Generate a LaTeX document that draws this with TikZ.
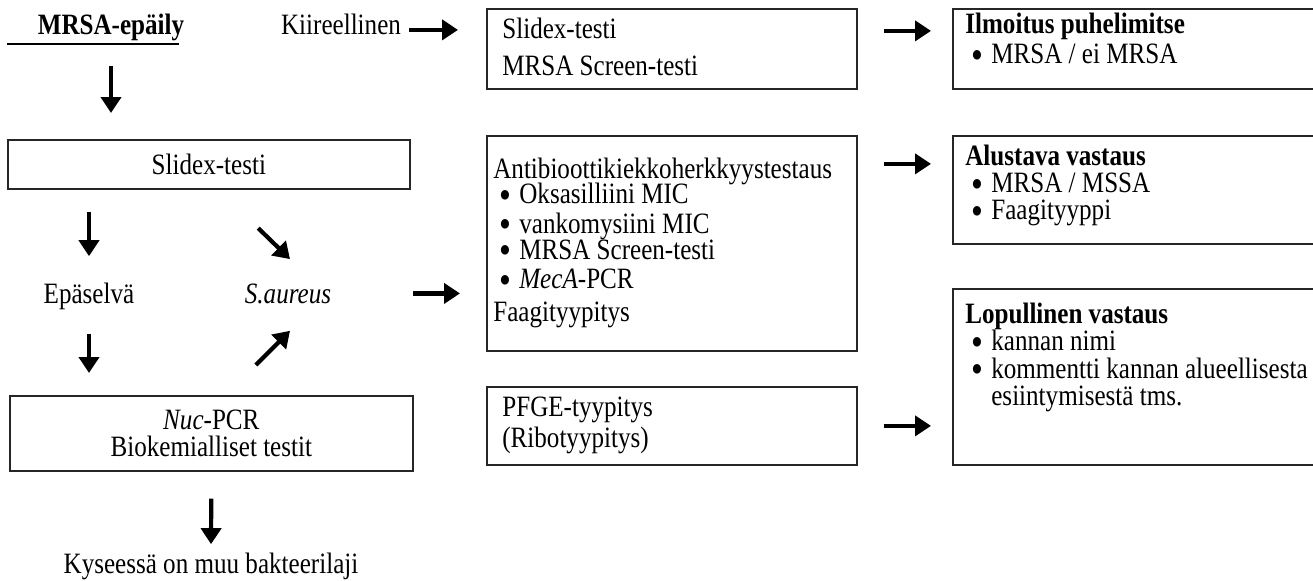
\documentclass[tikz,border=0pt]{standalone}
\usepackage{fontspec}
\usepackage{graphicx}
\setmainfont{Liberation Serif}[FakeStretch=0.85]
\usetikzlibrary{arrows.meta}

\newcommand{\diagfont}{\fontsize{16.8}{16}\selectfont\lineskiplimit -20pt\relax}
\newcommand{\bul}{\makebox[0.52cm][l]{\hspace{0.12cm}\raisebox{-0.16em}{\scalebox{1.35}{\textbullet}}}}

\begin{document}
\begin{tikzpicture}[
  x=0.02cm, y=-0.02cm,
  font=\diagfont,
  box/.style 2 args={draw=black!85, line width=1pt, anchor=north west, inner sep=0pt,
    minimum width=#1, minimum height=#2, align=center},
  txt/.style={inner sep=0pt, anchor=base},
  lst/.style={inner sep=0pt, anchor=north west, align=left},
  arr/.style={-{Triangle[length=0.32cm, width=0.4cm]}, line width=2.4pt},
]
  \useasboundingbox (0,0) rectangle (1313,581);

  % left column
  \node[txt] (suspect) at (111,35) {\textbf{MRSA-epäily}};
  \draw[line width=0.7pt] (7,44) -- (179,44);
  \node[box={8.04cm}{0.98cm}] (slidex) at (7,139) {Slidex-testi};
  \node[txt] (unclear) at (89,303) {Epäselvä};
  \node[txt] (saureus) at (288,303) {\textit{S.aureus}};
  \node[box={8.06cm}{1.5cm}] (nucpcr) at (9,395) {\textit{Nuc}-PCR\\[-0.04cm] Biokemialliset testit};
  \node[txt] (other) at (211,573) {Kyseessä on muu bakteerilaji};
  \node[txt] (urgent) at (341,35) {Kiireellinen};

  % middle column
  \node[box={7.4cm}{1.6cm}] (quick) at (486,8) {};
  \node[lst] (quicktxt) at (502,18) {Slidex-testi\\[0.18cm] MRSA Screen-testi};
  \node[box={7.4cm}{4.3cm}] (suscept) at (486,135) {};
  \node[lst] (suscepttxt) at (493,158) {Antibioottikiekkoherkkyystestaus\\[-0.06cm]
    \bul Oksasilliini MIC\\[0.02cm]
    \bul vankomysiini MIC\\[-0.04cm]
    \bul MRSA Screen-testi\\[0.02cm]
    \bul \textit{MecA}-PCR\\[0.1cm]
    Faagityypitys};
  \node[box={7.4cm}{1.56cm}] (pfge) at (486,386) {};
  \node[lst] (pfgetxt) at (502,397) {PFGE-tyypitys\\[0.04cm] (Ribotyypitys)};

  % right column
  \node[box={7.32cm}{1.6cm}] (notice) at (952,8) {};
  \node[lst] (noticetxt) at (965,13) {\textbf{Ilmoitus puhelimitse}\\[0.04cm] \bul MRSA / ei MRSA};
  \node[box={7.32cm}{2.16cm}] (prelim) at (952,135) {};
  \node[lst] (prelimtxt) at (965,145) {\textbf{Alustava vastaus}\\[-0.02cm] \bul MRSA / MSSA\\[-0.03cm] \bul Faagityyppi};
  \node[box={7.32cm}{3.52cm}] (final) at (952,288) {};
  \node[lst] (finaltxt) at (965,303) {\textbf{Lopullinen vastaus}\\[-0.02cm]
    \bul kannan nimi\\[-0.02cm]
    \bul kommentti kannan alueellisesta\\[-0.02cm]
    \hspace*{0.52cm}esiintymisestä tms.};

  % arrows
  \draw[arr, shorten <=0.48cm, shorten >=0.52cm] (suspect.south) -- (suspect.south |- slidex.north);
  \draw[arr, shorten <=0.16cm, shorten >=0.56cm] ([yshift=-0.1cm]urgent.east) -- ([yshift=-0.1cm]urgent.east -| quick.west);
  \draw[arr, shorten <=0.52cm, shorten >=0.42cm] ([yshift=0.36cm]quick.east) -- ([yshift=0.36cm]notice.west);
  \draw[arr, shorten <=0.44cm, shorten >=0.52cm] (unclear |- slidex.south) -- (unclear.north);
  \draw[arr, shorten <=1.1cm] ([xshift=0.2cm]slidex.south) -- ([xshift=0.04cm, yshift=0.48cm]saureus.north);
  \draw[arr, shorten <=0.48cm, shorten >=0.44cm] (unclear.south) -- (unclear.south |- nucpcr.north);
  \draw[arr, shorten <=0.85cm] ([xshift=0.29cm]nucpcr.north) -- ([xshift=0.04cm, yshift=-0.54cm]saureus.south);
  \draw[arr, shorten <=1.64cm, shorten >=0.52cm] (saureus.east) -- (saureus.east -| suscept.west);
  \draw[arr, shorten <=0.52cm, shorten >=0.42cm] ([yshift=0.52cm]prelim.west -| suscept.east) -- ([yshift=0.52cm]prelim.west);
  \draw[arr, shorten <=0.52cm, shorten >=0.42cm] (pfge.east) -- (pfge.east -| final.west);
  \draw[arr, shorten <=0.54cm, shorten >=0.16cm] (nucpcr.south) -- (other.north);
\end{tikzpicture}
\end{document}
